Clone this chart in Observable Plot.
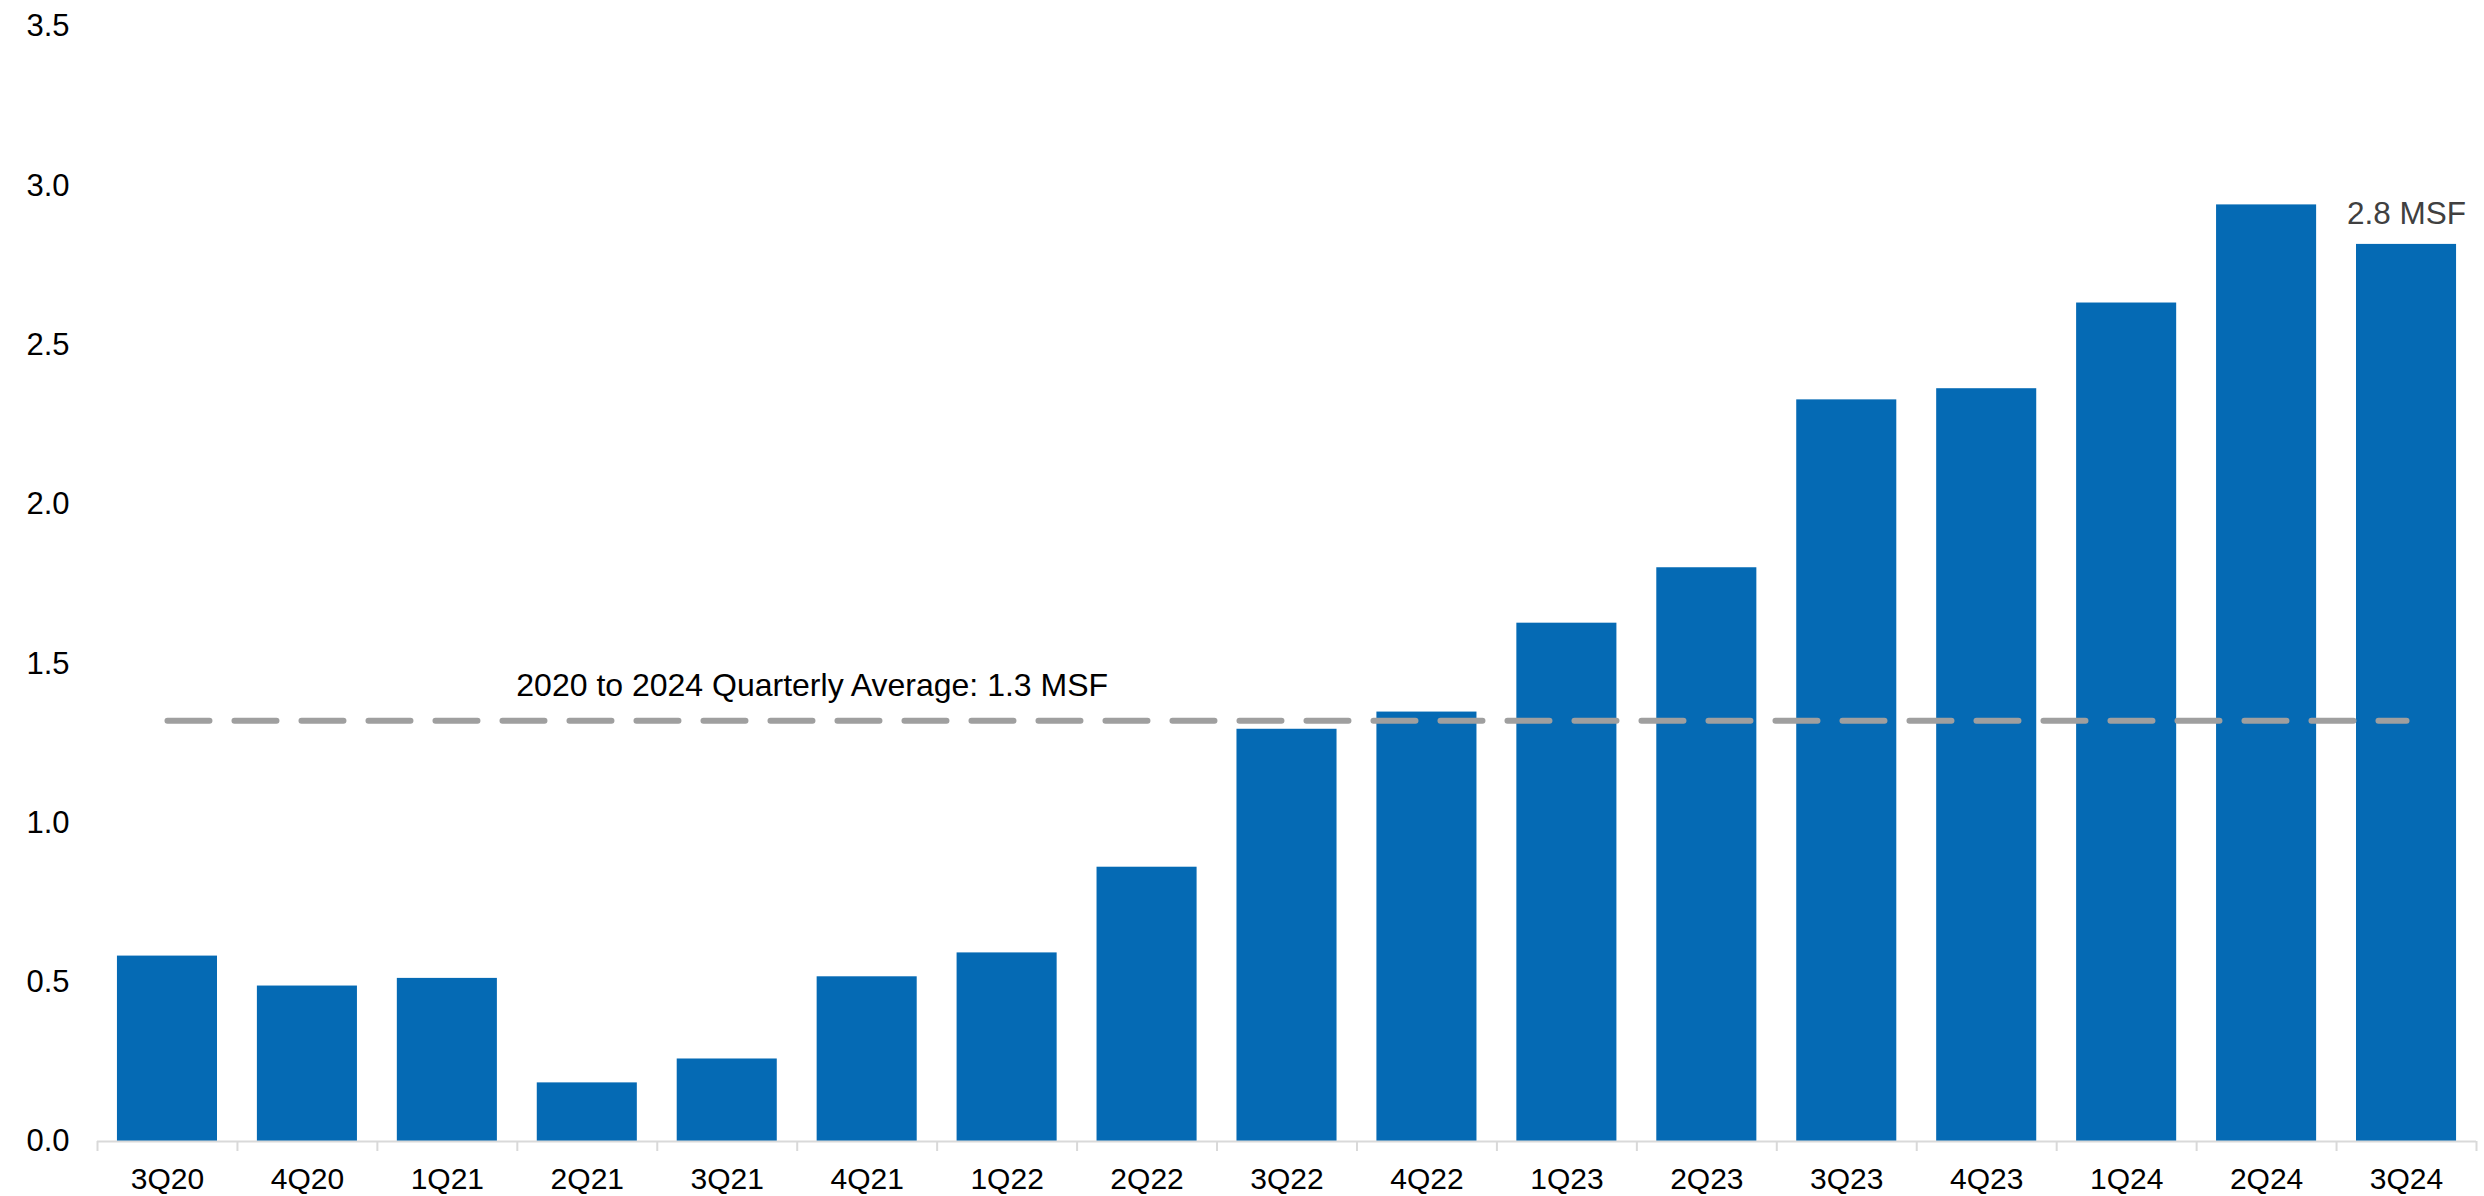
<!DOCTYPE html>
<html>
<head>
<meta charset="utf-8">
<script src="https://cdn.jsdelivr.net/npm/d3@7"></script>
<script src="https://cdn.jsdelivr.net/npm/@observablehq/plot@0.6"></script>
<style>
  html, body { margin: 0; padding: 0; background: #fff; }
  #chart svg { display: block; }
</style>
</head>
<body>
<div id="chart"></div>
<script>
const quarters = ["3Q20","4Q20","1Q21","2Q21","3Q21","4Q21","1Q22","2Q22","3Q22","4Q22","1Q23","2Q23","3Q23","4Q23","1Q24","2Q24","3Q24"];
const values = [0.582,0.488,0.512,0.184,0.259,0.517,0.592,0.861,1.294,1.348,1.627,1.801,2.328,2.363,2.632,2.940,2.816];
const yTicks = [0,0.5,1.0,1.5,2.0,2.5,3.0,3.5];
const averageValue = 1.321;
const averageLabel = "2020 to 2024 Quarterly Average: 1.3 MSF";
const lastLabel = "2.8 MSF";

const data = quarters.map((q, i) => ({q, v: values[i]}));
const avgData = [{q: quarters[0], v: averageValue}, {q: quarters[quarters.length - 1], v: averageValue}];

const W = 2484, H = 1196;
const mL = 97, mR = 8, mT = 26, mB = 55;
const step = (W - mL - mR) / quarters.length;
const font = "Liberation Sans, Arial, sans-serif";

const chart = Plot.plot({
  width: W,
  height: H,
  marginLeft: mL,
  marginRight: mR,
  marginTop: mT,
  marginBottom: mB,
  style: {fontFamily: font, background: "#fff", color: "#000"},
  x: {domain: quarters, paddingInner: 0.285, paddingOuter: 0.1425, round: false, label: null},
  y: {domain: [0, 3.5], label: null},
  marks: [
    Plot.barY(data, {x: "q", y: "v", fill: "#056ab4"}),
    Plot.ruleY([0], {stroke: "#d9d9d9", strokeWidth: 2}),
    Plot.ruleX(quarters, {x: d => d, y1: 0, y2: 0, insetBottom: -10, dx: -step / 2, stroke: "#d9d9d9", strokeWidth: 2}),
    Plot.ruleX([quarters[quarters.length - 1]], {x: d => d, y1: 0, y2: 0, insetBottom: -10, dx: step / 2, stroke: "#d9d9d9", strokeWidth: 2}),
    Plot.line(avgData, {x: "q", y: "v", stroke: "#9f9f9f", strokeWidth: 6, strokeDasharray: "42,25", strokeLinecap: "round"}),
    Plot.text([averageLabel], {x: () => quarters[5], y: () => averageValue, text: d => d, dx: -55, dy: -35, fontSize: 32, fill: "#000", textAnchor: "middle"}),
    Plot.text([data[data.length - 1]], {x: "q", y: "v", text: () => lastLabel, dy: -30, fontSize: 31.5, fill: "#404040", textAnchor: "middle"}),
    Plot.axisY(yTicks, {tickSize: 0, tickPadding: 28, tickFormat: d3.format(".1f"), fontSize: 31, fill: "#000", label: null}),
    Plot.axisX({tickSize: 0, tickPadding: 26, fontSize: 30, fill: "#000", label: null})
  ]
});
chart.querySelectorAll("text").forEach(t => t.style.fontFamily = font);
document.getElementById("chart").appendChild(chart);
</script>
</body>
</html>
